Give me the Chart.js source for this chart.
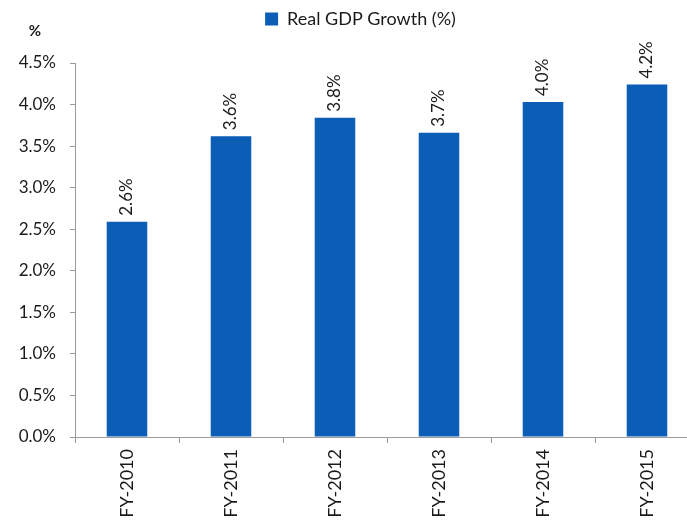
<!DOCTYPE html>
<html>
<head>
<meta charset="utf-8">
<script src="https://cdn.jsdelivr.net/npm/chart.js@4/dist/chart.umd.min.js"></script>
<style>
  html, body { margin: 0; padding: 0; background: #fff; overflow: hidden; }
</style>
</head>
<body>
<canvas id="gdpChart" width="699" height="523"></canvas>
<script>
var categories = ['FY-2010', 'FY-2011', 'FY-2012', 'FY-2013', 'FY-2014', 'FY-2015'];
var growth = [2.59, 3.62, 3.84, 3.66, 4.03, 4.24];
var yTicks = [0, 0.5, 1.0, 1.5, 2.0, 2.5, 3.0, 3.5, 4.0, 4.5];

var barBlue = '#0B5DB6';
var axisGrey = '#9a9a9a';
var textColor = '#1a1a1a';
var fontName = 'Lato, "DejaVu Sans", sans-serif';

// taller legend box, legend nudged right, value labels above bars and the "%" unit label
var extras = {
  id: 'extras',
  beforeInit: function(chart) {
    var fit = chart.legend.fit;
    chart.legend.fit = function() {
      fit.call(this);
      this.height += 25;
    };
  },
  afterLayout: function(chart) {
    chart.legend.left += 22;
  },
  afterDatasetsDraw: function(chart) {
    var ctx = chart.ctx;
    var meta = chart.getDatasetMeta(0);
    ctx.save();
    ctx.fillStyle = textColor;
    ctx.font = '17px ' + fontName;
    ctx.textAlign = 'left';
    ctx.textBaseline = 'middle';
    meta.data.forEach(function(bar, i) {
      ctx.save();
      ctx.translate(bar.x, bar.y - 6);
      ctx.rotate(-Math.PI / 2);
      ctx.fillText(growth[i].toFixed(1) + '%', 0, 0);
      ctx.restore();
    });
    ctx.font = 'bold 15px ' + fontName;
    ctx.textAlign = 'center';
    ctx.fillText('%', 35, 31);
    ctx.restore();
  }
};

var ctx = document.getElementById('gdpChart').getContext('2d');
var gdpChart = new Chart(ctx, {
  type: 'bar',
  data: {
    labels: categories,
    datasets: [{
      label: 'Real GDP Growth (%)',
      data: growth,
      backgroundColor: barBlue,
      borderWidth: 0,
      barPercentage: 0.39,
      categoryPercentage: 1.0
    }]
  },
  options: {
    responsive: false,
    animation: false,
    layout: { padding: 0 },
    plugins: {
      legend: {
        position: 'top',
        labels: {
          boxWidth: 13,
          boxHeight: 13,
          padding: 10,
          color: textColor,
          font: { family: fontName, size: 18 }
        }
      },
      tooltip: { enabled: false }
    },
    scales: {
      x: {
        afterFit: function(scale) { scale.height = 86; },
        grid: {
          offset: true,
          drawOnChartArea: false,
          tickLength: 6,
          color: axisGrey
        },
        border: { color: axisGrey },
        ticks: {
          maxRotation: 90,
          minRotation: 90,
          padding: 6,
          color: textColor,
          font: { family: fontName, size: 18 }
        }
      },
      y: {
        min: 0,
        max: 4.5,
        afterFit: function(scale) { scale.width = 75; },
        afterBuildTicks: function(scale) {
          scale.ticks = yTicks.map(function(v) { return { value: v }; });
        },
        grid: {
          drawOnChartArea: false,
          tickLength: 5,
          color: axisGrey
        },
        border: { color: axisGrey },
        ticks: {
          padding: 14,
          color: textColor,
          font: { family: fontName, size: 17 },
          callback: function(v) { return v.toFixed(1) + '%'; }
        }
      }
    }
  },
  plugins: [extras]
});
</script>
</body>
</html>
